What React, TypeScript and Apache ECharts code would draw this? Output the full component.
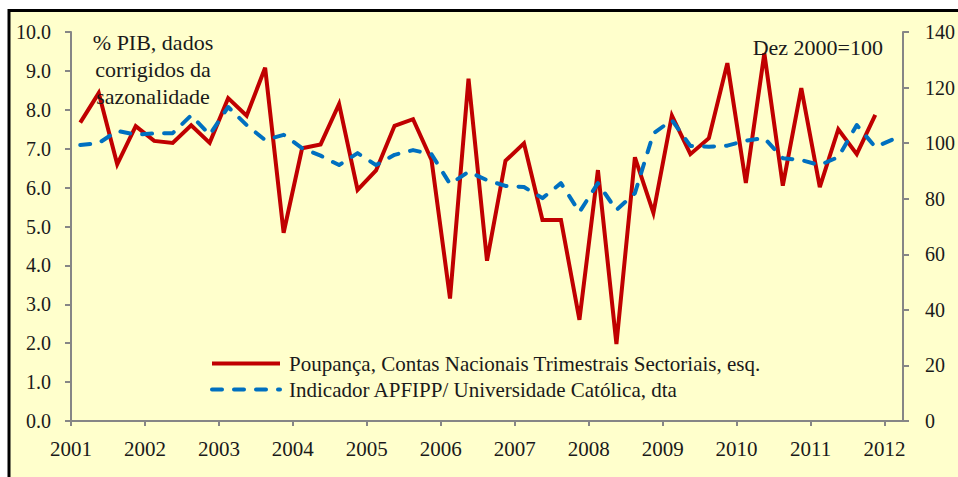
import React, { useEffect, useRef } from "react";
import * as echarts from "echarts";

// Quarterly periods (points placed at the middle of each quarter)
const quarters: string[] = [
  "2001Q1","2001Q2","2001Q3","2001Q4","2002Q1","2002Q2","2002Q3","2002Q4",
  "2003Q1","2003Q2","2003Q3","2003Q4","2004Q1","2004Q2","2004Q3","2004Q4",
  "2005Q1","2005Q2","2005Q3","2005Q4","2006Q1","2006Q2","2006Q3","2006Q4",
  "2007Q1","2007Q2","2007Q3","2007Q4","2008Q1","2008Q2","2008Q3","2008Q4",
  "2009Q1","2009Q2","2009Q3","2009Q4","2010Q1","2010Q2","2010Q3","2010Q4",
  "2011Q1","2011Q2","2011Q3","2011Q4","2012Q1",
];

// Poupança, Contas Nacionais Trimestrais Sectoriais (% PIB, left axis)
const poupanca: number[] = [
  7.67, 8.43, 6.6, 7.58, 7.2, 7.15, 7.6, 7.15,
  8.3, 7.85, 9.08, 4.84, 7.01, 7.11, 8.15, 5.94,
  6.44, 7.59, 7.76, 6.71, 3.15, 8.8, 4.12, 6.69,
  7.14, 5.17, 5.17, 2.6, 6.45, 1.98, 6.78, 5.35,
  7.85, 6.86, 7.27, 9.2, 6.12, 9.45, 6.05, 8.56,
  6.01, 7.5, 6.86, 7.87,
];

// Indicador APFIPP/Universidade Católica (Dez 2000=100, right axis)
const indicador: number[] = [
  99.3, 100.0, 104.4, 103.1, 103.5, 103.6, 110.0, 103.0,
  113.0, 106.5, 101.1, 103.0, 98.2, 95.5, 92.1, 96.4,
  92.1, 95.8, 97.5, 96.0, 85.3, 89.7, 86.7, 84.6,
  84.2, 80.2, 85.6, 75.2, 85.6, 75.9, 82.0, 103.5,
  108.3, 99.0, 98.7, 99.1, 100.9, 101.8, 94.6, 93.9,
  92.1, 95.0, 106.5, 98.6, 101.5,
];

const yearTicks: number[] = [2001, 2002, 2003, 2004, 2005, 2006, 2007, 2008, 2009, 2010, 2011, 2012];

const seriesNames = [
  "Poupança, Contas Nacionais Trimestrais Sectoriais, esq.",
  "Indicador APFIPP/ Universidade Católica, dta",
];

const quarterToYear = (q: string): number => {
  const y = parseInt(q.slice(0, 4), 10);
  const n = parseInt(q.slice(5), 10);
  return y + (n - 0.5) / 4;
};

const FONT = "'Liberation Serif', 'Times New Roman', serif";
const AXIS_COLOR = "#868686";
const TEXT_COLOR = "#1a1a1a";

export default function App() {
  const ref = useRef<HTMLDivElement>(null);

  useEffect(() => {
    if (!ref.current) return;
    const chart = echarts.init(ref.current, null, { renderer: "svg" });

    const redData = poupanca.map((v, i) => [quarterToYear(quarters[i]), v]);
    const blueData = indicador.map((v, i) => [quarterToYear(quarters[i]), v]);

    const axisCommon = {
      axisLine: { show: true, lineStyle: { color: AXIS_COLOR, width: 2 } },
      axisTick: { show: true, inside: false, length: 6, lineStyle: { color: AXIS_COLOR, width: 2 } },
      splitLine: { show: false },
    };

    chart.setOption({
      animation: false,
      backgroundColor: "#ffffff",
      textStyle: { fontFamily: FONT },
      graphic: [
        {
          type: "rect",
          z: -10,
          silent: true,
          shape: { x: 9, y: 10.5, width: 1000, height: 1000 },
          style: { fill: "#FFFFCC", stroke: "#000000", lineWidth: 3 },
        },
        {
          type: "text",
          z: 100,
          x: 153,
          y: 29,
          style: {
            text: "% PIB, dados\ncorrigidos da\nsazonalidade",
            font: `22px ${FONT}`,
            fill: TEXT_COLOR,
            textAlign: "center",
            textVerticalAlign: "top",
            lineHeight: 27,
          },
        },
        {
          type: "text",
          z: 100,
          x: 883,
          y: 47,
          style: {
            text: "Dez 2000=100",
            font: `22px ${FONT}`,
            fill: TEXT_COLOR,
            textAlign: "right",
            textVerticalAlign: "middle",
          },
        },
      ],
      grid: { left: 71, right: 51, top: 32, bottom: 56, containLabel: false },
      legend: {
        orient: "vertical",
        left: 210,
        top: 353,
        itemWidth: 68,
        itemHeight: 14,
        itemGap: 5,
        padding: 0,
        itemStyle: { color: "rgba(0,0,0,0)", borderWidth: 0, opacity: 0 },
        lineStyle: { width: 4 },
        textStyle: {
          fontFamily: FONT,
          fontSize: 21,
          lineHeight: 14,
          color: TEXT_COLOR,
          padding: [0, 0, 0, 4],
        },
        data: seriesNames,
      },
      xAxis: {
        type: "value",
        min: 2001,
        max: 2012.25,
        interval: 1,
        ...axisCommon,
        axisTick: { ...axisCommon.axisTick, length: 5, customValues: yearTicks },
        axisLabel: {
          customValues: yearTicks,
          fontFamily: FONT,
          fontSize: 21,
          color: TEXT_COLOR,
          margin: 17,
          formatter: (v: number) => (Number.isInteger(v) ? String(v) : ""),
        },
      },
      yAxis: [
        {
          type: "value",
          position: "left",
          min: 0,
          max: 10,
          interval: 1,
          ...axisCommon,
          axisLabel: {
            fontFamily: FONT,
            fontSize: 20,
            color: TEXT_COLOR,
            margin: 20,
            formatter: (v: number) => v.toFixed(1),
          },
        },
        {
          type: "value",
          position: "right",
          min: 0,
          max: 140,
          interval: 20,
          ...axisCommon,
          axisLabel: {
            fontFamily: FONT,
            fontSize: 20,
            color: TEXT_COLOR,
            margin: 22,
          },
        },
      ],
      series: [
        {
          name: seriesNames[0],
          type: "line",
          yAxisIndex: 0,
          data: redData,
          symbol: "none",
          z: 3,
          itemStyle: { color: "#C00000" },
          lineStyle: { color: "#C00000", width: 4, join: "miter", miterLimit: 4 },
        },
        {
          name: seriesNames[1],
          type: "line",
          yAxisIndex: 1,
          data: blueData,
          symbol: "none",
          z: 4,
          itemStyle: { color: "#0070C0" },
          lineStyle: { color: "#0070C0", width: 4, type: [10, 12], cap: "round", join: "round" },
        },
      ],
    });

    return () => chart.dispose();
  }, []);

  return (
    <div
      ref={ref}
      style={{ position: "fixed", left: 0, top: 0, width: 958, height: 477 }}
    />
  );
}
